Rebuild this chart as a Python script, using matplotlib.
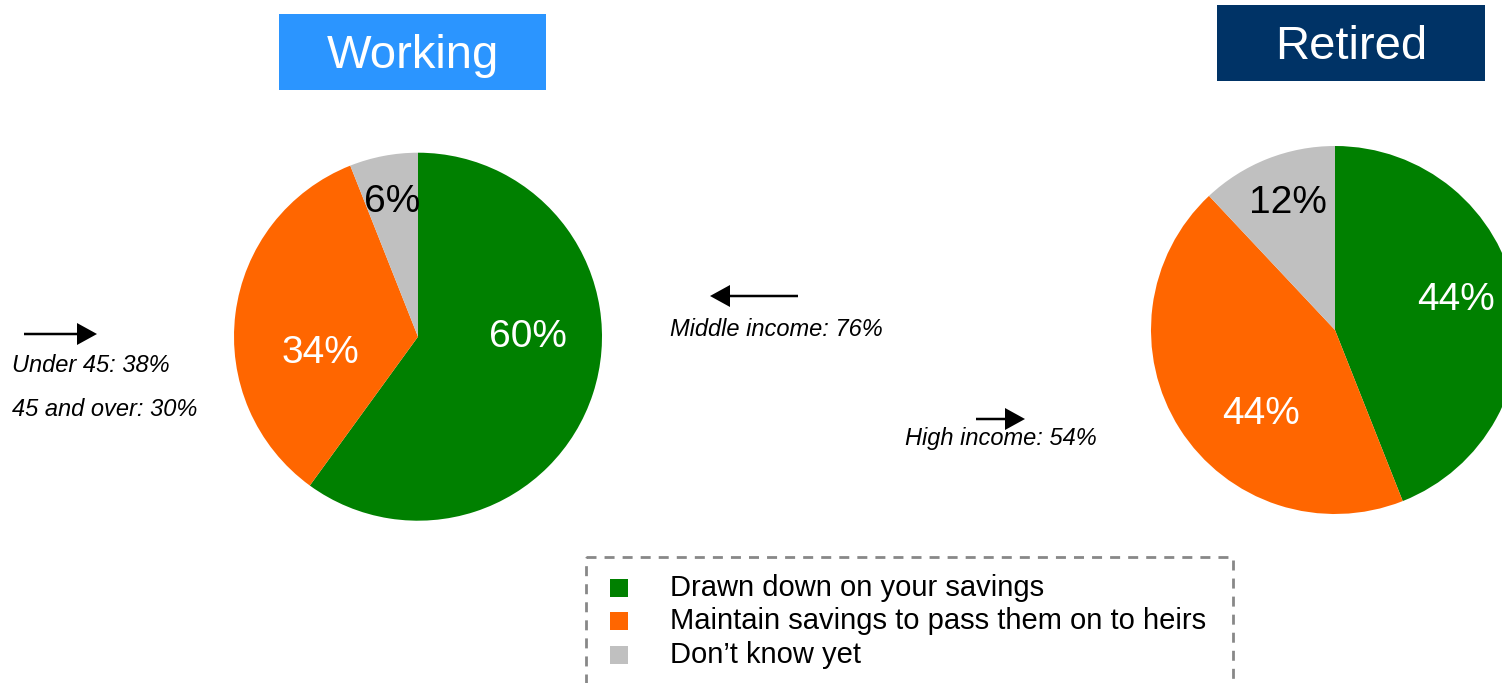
import matplotlib
matplotlib.use("Agg")
import matplotlib.pyplot as plt
from matplotlib.patches import Rectangle

plt.rcParams['font.family'] = ['Liberation Sans', 'DejaVu Sans']

# ---- data ----
categories = ["Drawn down on your savings",
              "Maintain savings to pass them on to heirs",
              "Don\u2019t know yet"]
colors = ["#008000", "#FF6600", "#C0C0C0"]
label_colors = ["white", "white", "black"]

working_values = [60, 34, 6]
retired_values = [44, 44, 12]
working_labels = ["60%", "34%", "6%"]
retired_labels = ["44%", "44%", "12%"]

# label positions inside the pie (in pie-radius units)
working_label_pos = [(0.60, 0.0), (-0.53, -0.09), (-0.14, 0.73)]
retired_label_pos = [(0.66, 0.165), (-0.40, -0.455), (-0.255, 0.69)]

W, H = 1502, 683
fig = plt.figure(figsize=(W / 100, H / 100), dpi=100)
fig.patch.set_facecolor("white")

# overlay axes in pixel coordinates
ax0 = fig.add_axes([0, 0, 1, 1])
ax0.set_xlim(0, W)
ax0.set_ylim(H, 0)
ax0.axis("off")


def pie_axes(cx, cy, r):
    ax = fig.add_axes([(cx - r) / W, (H - cy - r) / H, 2 * r / W, 2 * r / H])
    return ax


def draw_pie(ax, values, labels, pos):
    ax.pie(values, colors=colors, startangle=90, counterclock=False,
           radius=1, wedgeprops=dict(linewidth=0))
    ax.set_xlim(-1, 1)
    ax.set_ylim(-1, 1)
    ax.set_aspect("equal")
    ax.axis("off")
    for lab, (px, py), c in zip(labels, pos, label_colors):
        ax.text(px, py, lab, ha="center", va="center", fontsize=28, color=c)


axL = pie_axes(418, 336.7, 184)
draw_pie(axL, working_values, working_labels, working_label_pos)
axR = pie_axes(1335, 330, 184)
draw_pie(axR, retired_values, retired_labels, retired_label_pos)

# title boxes
ax0.add_patch(Rectangle((279, 14), 267, 76, facecolor="#2B95FF", edgecolor="none"))
ax0.text(412.5, 56, "Working", ha="center", va="center", fontsize=34, color="white")
ax0.add_patch(Rectangle((1217, 5), 268, 76, facecolor="#003366", edgecolor="none"))
ax0.text(1351, 47, "Retired", ha="center", va="center", fontsize=34, color="white")

# annotations
arrow_kw = dict(width=2.5, head_width=22, head_length=20,
                length_includes_head=True, color="black", linewidth=0)
ax0.arrow(24, 334, 73, 0, **arrow_kw)
ax0.text(12, 365, "Under 45: 38%", ha="left", va="center", fontsize=17, style="italic")
ax0.text(12, 410, "45 and over: 30%", ha="left", va="center", fontsize=17, style="italic")

ax0.arrow(798, 296, -88, 0, **arrow_kw)
ax0.text(670, 329, "Middle income: 76%", ha="left", va="center", fontsize=17, style="italic")

ax0.arrow(976, 419, 49, 0, **arrow_kw)
ax0.text(905, 438, "High income: 54%", ha="left", va="center", fontsize=17, style="italic")

# legend
ax0.add_patch(Rectangle((586, 557), 647, 160, facecolor="none", edgecolor="#888888",
                        linewidth=2, linestyle=(0, (3.6, 2.9)), clip_on=True))
ys = [588, 621, 655]
for cat, c, y in zip(categories, colors, ys):
    ax0.add_patch(Rectangle((610, y - 9), 18, 18, facecolor=c, edgecolor="none"))
    ax0.text(670, y, cat, ha="left", va="center", fontsize=21, color="black")

fig.savefig("out.png", dpi=100, facecolor="white")
